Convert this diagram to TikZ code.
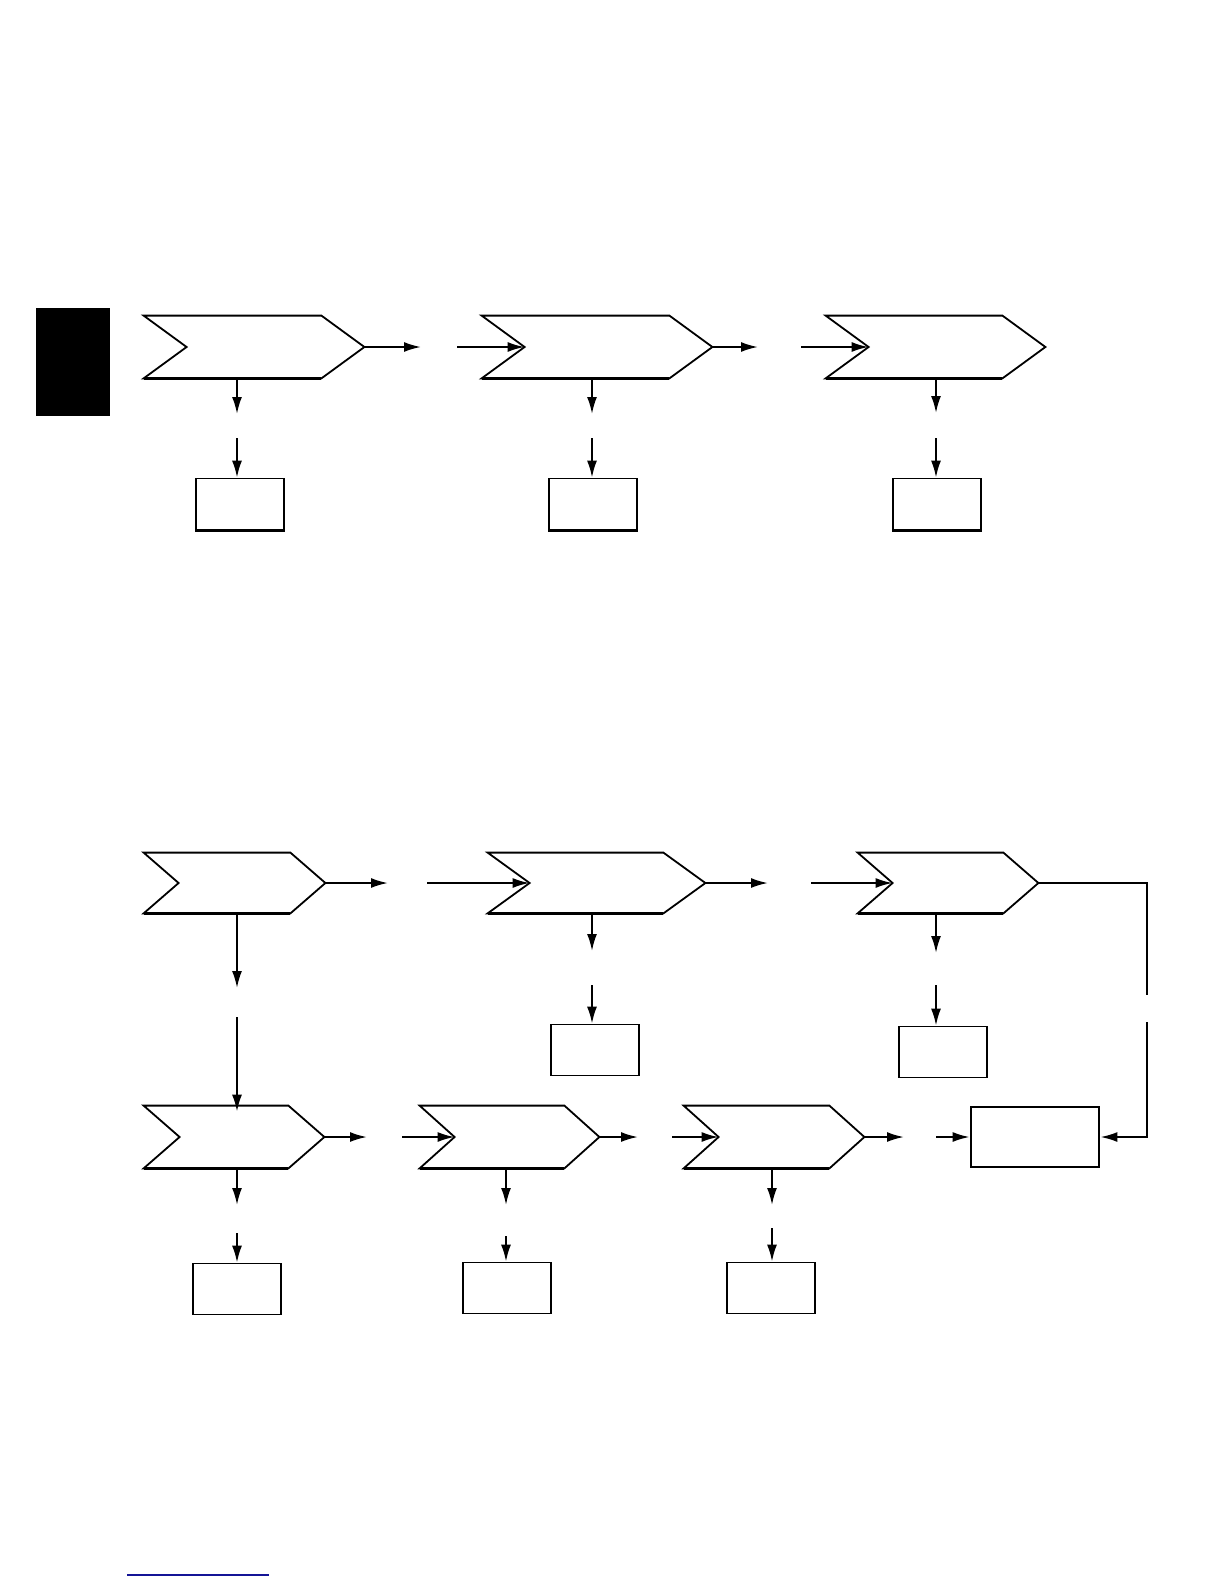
\documentclass[tikz,border=0pt]{standalone}
\usetikzlibrary{arrows.meta,calc,fit}
\definecolor{linkblue}{RGB}{20,20,150}
\tikzset{
  chevline/.style={line width=0.9pt,line join=miter},
  chevbase/.style={line width=1.4pt},
  flow/.style={line width=1pt,-{Latex[length=8.5pt,width=5pt]}},
  outbox/.style={draw,line width=0.9pt,minimum width=44pt,minimum height=25.5pt,inner sep=0pt},
}
% chevron: name, corner, opposite corner of the body, depth of notch/point
\newcommand{\chevron}[4]{%
  \node[fit={#2 #3},inner sep=0pt] (#1) {};
  \coordinate (#1-notch) at ($(#1.west)+(#4,0)$);
  \coordinate (#1-tip) at ($(#1.east)+(#4,0)$);
  \draw[chevline] (#1.north west) -- (#1.north east) -- (#1-tip) -- (#1.south east)
    -- (#1.south west) -- (#1-notch) -- cycle;
  \draw[chevbase] (#1.south west) -- (#1.south east);
}
\begin{document}
\begin{tikzpicture}[x=0.5pt,y=-0.5pt]
\useasboundingbox (0,0) rectangle (1224,1584);
% side tab
\fill[black] (36,308) rectangle (110,416);

% first chain
\chevron{c1}{(144,316)}{(321,378)}{43}
\chevron{c2}{(482,316)}{(669,378)}{43}
\chevron{c3}{(826,316)}{(1002,378)}{43}
\node[outbox] (b1) at (240,504) {};
\node[outbox] (b2) at (593,504) {};
\node[outbox] (b3) at (937,504) {};
\coordinate (c1-out) at (421,347);
\coordinate (c2-in) at (457,347);
\coordinate (c2-out) at (758,347);
\coordinate (c3-in) at (801,347);
\coordinate (c1-up) at (237,414);
\coordinate (c1-lo) at (237,438);
\coordinate (c2-up) at (592,414);
\coordinate (c2-lo) at (592,438);
\coordinate (c3-up) at (936,413);
\coordinate (c3-lo) at (936,438);
\draw[flow] (c1-tip) -- (c1-out);
\draw[flow] (c2-in) -- (c2-notch);
\draw[flow] (c2-tip) -- (c2-out);
\draw[flow] (c3-in) -- (c3-notch);
\foreach \i in {1,2,3} {
  \draw[flow] (c\i.south -| c\i-up) -- (c\i-up);
  \draw[flow] (c\i-lo) -- (c\i-lo |- b\i.north);
  \draw[chevbase] (b\i.south west) -- (b\i.south east);
}

% second chain
\chevron{ca}{(144,853)}{(290,913)}{35}
\chevron{cb}{(488,853)}{(663,913)}{42}
\chevron{cc}{(858,853)}{(1003,913)}{35}
\chevron{cd}{(144,1106)}{(288,1168)}{36}
\chevron{ce}{(420,1106)}{(564,1168)}{35}
\chevron{cf}{(684,1106)}{(829,1168)}{35}
\node[outbox] (bb) at (595,1050) {};
\node[outbox] (bc) at (943,1052) {};
\node[outbox] (bd) at (237,1289) {};
\node[outbox] (be) at (507,1288) {};
\node[outbox] (bf) at (771,1288) {};
\node[outbox,line width=1.4pt,minimum width=64pt,minimum height=30pt] (g) at (1035,1137) {};

\coordinate (ca-out) at (388,883);
\coordinate (cb-in) at (427,883);
\coordinate (cb-out) at (768,883);
\coordinate (cc-in) at (811,883);
\coordinate (cc-turn) at (1147,883);
\coordinate (g-brk) at (1147,995);
\coordinate (g-res) at (1147,1022);
\coordinate (cd-out) at (367,1137);
\coordinate (ce-in) at (402,1137);
\coordinate (ce-out) at (638,1137);
\coordinate (cf-in) at (672,1137);
\coordinate (cf-out) at (904,1137);
\coordinate (g-in) at (936,1137);
\draw[flow] (ca-tip) -- (ca-out);
\draw[flow] (cb-in) -- (cb-notch);
\draw[flow] (cb-tip) -- (cb-out);
\draw[flow] (cc-in) -- (cc-notch);
\draw[chevline] (cc-tip) -- (cc-turn) -- (g-brk);
\draw[flow] (g-res) |- (g);
\draw[flow] (cd-tip) -- (cd-out);
\draw[flow] (ce-in) -- (ce-notch);
\draw[flow] (ce-tip) -- (ce-out);
\draw[flow] (cf-in) -- (cf-notch);
\draw[flow] (cf-tip) -- (cf-out);
\draw[flow] (g-in) -- (g);

% downward links
\coordinate (ca-up) at (237,988);
\coordinate (ca-lo) at (237,1017);
\coordinate (cb-up) at (592,951);
\coordinate (cb-lo) at (592,985);
\coordinate (cc-up) at (936,953);
\coordinate (cc-lo) at (936,985);
\coordinate (cd-up) at (237,1205);
\coordinate (cd-lo) at (237,1233);
\coordinate (ce-up) at (506,1205);
\coordinate (ce-lo) at (506,1236);
\coordinate (cf-up) at (772,1205);
\coordinate (cf-lo) at (772,1228);
\draw[flow] (ca.south -| ca-up) -- (ca-up);
\draw[flow] (ca-lo) -- ($(ca-lo |- cd.north)+(0,6)$);
\draw[flow] (cb.south -| cb-up) -- (cb-up);
\draw[flow] (cb-lo) -- (cb-lo |- bb.north);
\draw[flow] (cc.south -| cc-up) -- (cc-up);
\draw[flow] (cc-lo) -- (cc-lo |- bc.north);
\draw[flow] (cd.south -| cd-up) -- (cd-up);
\draw[flow] (cd-lo) -- (cd-lo |- bd.north);
\draw[flow] (ce.south -| ce-up) -- (ce-up);
\draw[flow] (ce-lo) -- (ce-lo |- be.north);
\draw[flow] (cf.south -| cf-up) -- (cf-up);
\draw[flow] (cf-lo) -- (cf-lo |- bf.north);

% footer rule
\draw[linkblue,line width=0.8pt] (127,1575) -- (269,1575);
\end{tikzpicture}
\end{document}
